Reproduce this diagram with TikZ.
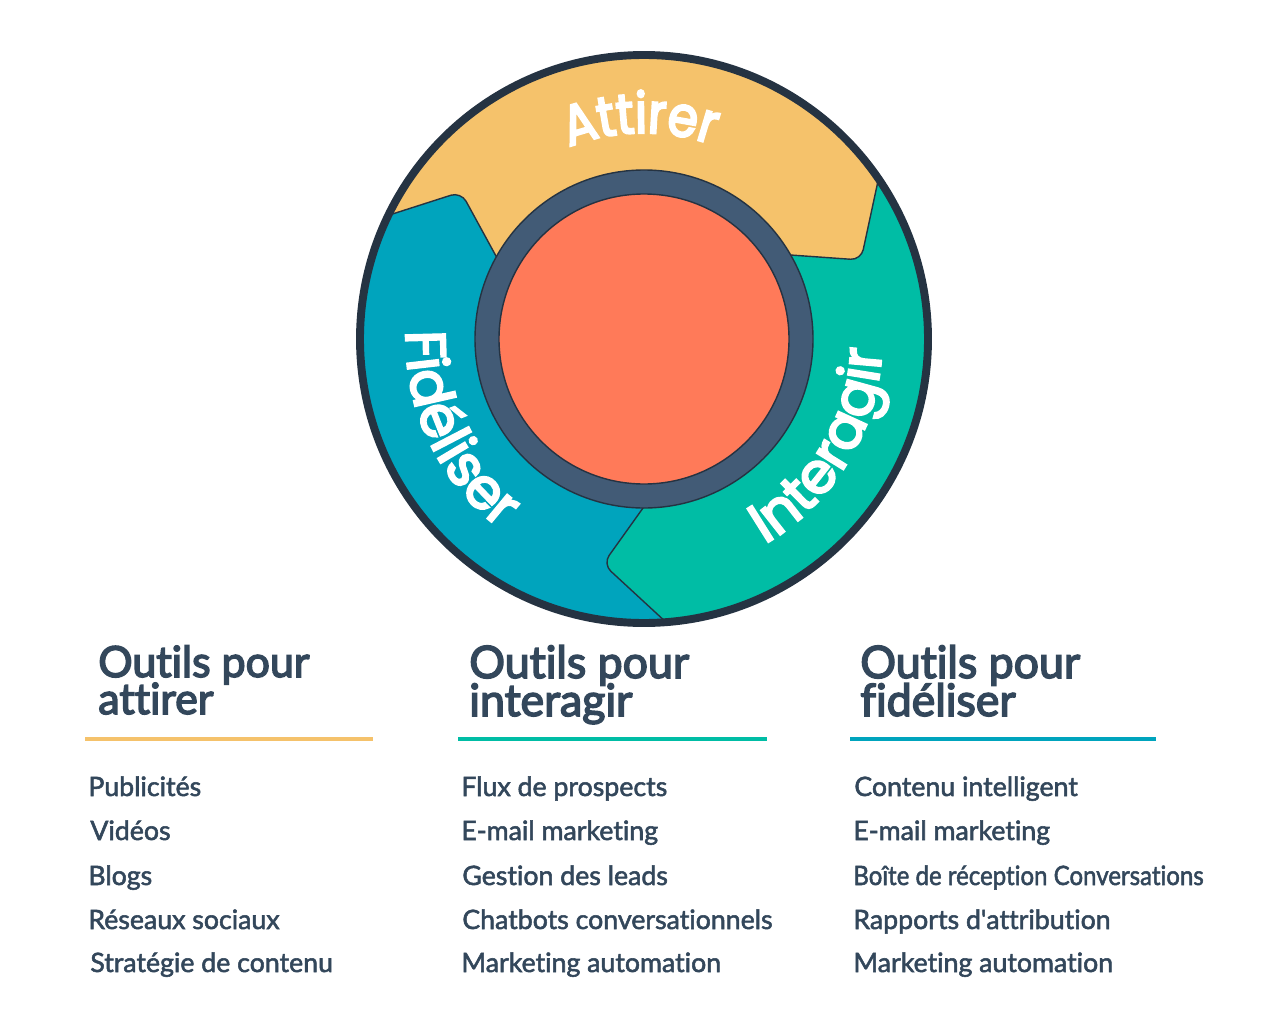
\documentclass[tikz,border=0pt]{standalone}
\usepackage{fontspec}
\setmainfont[Ligatures=NoCommon,FakeBold=2]{Lato}
\newfontfamily\wheelfont[FakeBold=4]{Poppins}
\newfontfamily\wheelnarrow[FakeBold=4,FakeStretch=0.86]{Poppins}
\newfontfamily\headfont[Ligatures=NoCommon,FakeBold=3.5]{Lato}
\usepackage{xcolor}
\usepackage{tikz}
\usetikzlibrary{decorations.text}

\definecolor{ringdark}{HTML}{253342}
\definecolor{ringmid}{HTML}{425B76}
\definecolor{inkblue}{HTML}{33475B}
\definecolor{attiresun}{HTML}{F5C26B}
\definecolor{interteal}{HTML}{00BDA5}
\definecolor{fideblue}{HTML}{00A4BD}
\definecolor{hubcoral}{HTML}{FF7A59}
\newcommand{\wheeltext}{\wheelfont\fontsize{32}{32}\selectfont\color{white}}
\newcommand{\wheeltextnarrow}{\wheelnarrow\fontsize{32}{32}\selectfont\color{white}}

\tikzset{
  edge/.style={draw=ringdark,line width=0.8pt},
  arclabel/.style={decorate,decoration={text along path,text align=center,text={#1}}},
  heading/.style={anchor=base west,inner sep=0pt,text=inkblue,font=\headfont\fontsize{#1}{#1}\selectfont},
  tool/.style={anchor=base west,inner sep=0pt,text=inkblue,font=\fontsize{15.2}{15.2}\selectfont},
  colrule/.style={line width=2.2pt}
}

\begin{document}
\begin{tikzpicture}[x=0.02cm,y=-0.02cm]
\useasboundingbox (0,0) rectangle (1278,1024);
\coordinate (ctr) at (644,339);

% Wheel sectors
\begin{scope}
\clip (ctr) circle (284);
\fill[fideblue] (ctr) circle (284);
\filldraw[fill=interteal,edge] (ctr) -- (643,508) [rounded corners=6pt] -- (603,564) [sharp corners] -- (668,624)
    -- (1000,640) -- (1000,100) -- (800,100) -- cycle;
\filldraw[fill=attiresun,edge] (380,218) [rounded corners=6pt] -- (461,192) [sharp corners] -- (520,300) -- (ctr) -- (720,250)
    [rounded corners=6pt] -- (861,260) [sharp corners] -- (881,167) -- (881,20) -- (380,20) -- cycle;
\end{scope}

% Rings
\draw[ringdark,line width=4.5pt] (ctr) circle (284);
\filldraw[fill=ringmid,edge] (ctr) circle (169);
\filldraw[fill=hubcoral,edge] (ctr) circle (145);

% Wheel labels
\path[arclabel={|\wheeltextnarrow|Attirer}] (ctr) ++(-131:206) arc[start angle=-131,end angle=-51,radius=206];
\path[arclabel={|\wheeltext|Interagir}] (ctr) ++(79:238) arc[start angle=79,end angle=-17,radius=238];
\path[arclabel={|\wheeltext|Fidéliser}] (ctr) ++(201:238) arc[start angle=201,end angle=108,radius=238];

% Columns
\node[heading=24.4] (attirerA) at (98,677) {Outils pour};
\node[heading=24.4] (attirerB) at (98,714) {attirer};
\node[heading=25.4] (interagirA) at (469,678) {Outils pour};
\node[heading=25.4] (interagirB) at (469,716) {interagir};
\node[heading=25.4] (fideliserA) at (860,678) {Outils pour};
\node[heading=25.4] (fideliserB) at (860,716) {fidéliser};

\draw[colrule,attiresun] (85,739) -- (373,739);
\draw[colrule,interteal] (458,739) -- (767,739);
\draw[colrule,fideblue] (850,739) -- (1156,739);

\foreach \x/\y/\label [count=\i] in {88/796/Publicités, 90/840/Vidéos, 88/885/Blogs, 88/929/Réseaux sociaux, 90/972/Stratégie de contenu}
    \node[tool] (attirertool\i) at (\x,\y) {\label};
\foreach \x/\y/\label [count=\i] in {461/796/Flux de prospects, 461/840/E-mail marketing, 462/885/Gestion des leads, 462/929/Chatbots conversationnels, 461/972/Marketing automation}
    \node[tool] (interagirtool\i) at (\x,\y) {\label};
\foreach \x/\y/\label [count=\i] in {854/796/Contenu intelligent, 853/840/E-mail marketing, 853/885/\scalebox{0.9}[1]{Boîte de réception Conversations}, 853/929/Rapports d\textquotesingle attribution, 853/972/Marketing automation}
    \node[tool] (fidelisertool\i) at (\x,\y) {\label};
\end{tikzpicture}
\end{document}
